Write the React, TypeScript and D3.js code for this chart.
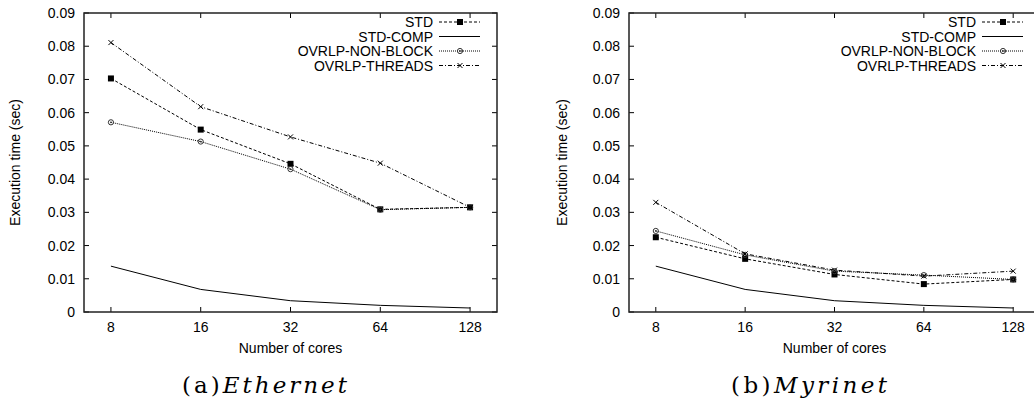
import React from "react";
import * as d3 from "d3";

const cores = ["8", "16", "32", "64", "128"];
const seriesNames = ["STD", "STD-COMP", "OVRLP-NON-BLOCK", "OVRLP-THREADS"];
const yTicks = [0, 0.01, 0.02, 0.03, 0.04, 0.05, 0.06, 0.07, 0.08, 0.09];

const ethStd = [0.0703, 0.0549, 0.0446, 0.0309, 0.0315];
const ethComp = [0.0138, 0.0068, 0.0034, 0.002, 0.0012];
const ethNonBlock = [0.0571, 0.0513, 0.043, 0.0308, 0.0315];
const ethThreads = [0.0811, 0.0618, 0.0527, 0.0448, 0.0315];

const myrStd = [0.0225, 0.016, 0.0113, 0.0084, 0.0098];
const myrComp = [0.0138, 0.0068, 0.0034, 0.002, 0.0012];
const myrNonBlock = [0.0244, 0.0172, 0.0123, 0.0111, 0.0098];
const myrThreads = [0.033, 0.0175, 0.0126, 0.0108, 0.0123];

const dashes = ["3,2", "none", "1,1", "4,2,1,2"];
const font = "'Liberation Sans', Arial, Helvetica, sans-serif";
const serif = "'DejaVu Serif', 'Liberation Serif', serif";

function Marker({ kind, x, y }: { kind: number; x: number; y: number }) {
  if (kind === 0) return <rect x={x - 3} y={y - 3} width={6} height={6} fill="#000" />;
  if (kind === 2)
    return (
      <g>
        <circle cx={x} cy={y} r={2.6} fill="none" stroke="#333" strokeWidth={1} />
        <circle cx={x} cy={y} r={0.9} fill="#333" />
      </g>
    );
  if (kind === 3)
    return (
      <g stroke="#000" strokeWidth={1}>
        <line x1={x - 2.5} y1={y - 2.5} x2={x + 2.5} y2={y + 2.5} />
        <line x1={x - 2.5} y1={y + 2.5} x2={x + 2.5} y2={y - 2.5} />
      </g>
    );
  return null;
}

function Panel({ left, right, series, labelX, caption, captionLetter, capX0, capX2 }: any) {
  const top = 13;
  const bottom = 312;
  const x = d3.scaleLinear().domain([-0.3, 4.3]).range([left, right]);
  const y = d3.scaleLinear().domain([0, 0.09]).range([bottom, top]);
  const line = d3
    .line<number>()
    .x((_, i) => x(i))
    .y((d) => y(d));
  const legX = right - 64;
  const legY = [22, 36.5, 51, 65.5];
  return (
    <g fontFamily={font}>
      {yTicks.map((t) => (
        <g key={"y" + t}>
          <line x1={left} x2={left + 5} y1={y(t)} y2={y(t)} stroke="#000" />
          <line x1={right} x2={right - 5} y1={y(t)} y2={y(t)} stroke="#000" />
          <text x={left - 9} y={y(t)} dy="0.36em" textAnchor="end" fontSize={14} fill="#000">
            {t === 0 ? "0" : t.toFixed(2)}
          </text>
        </g>
      ))}
      {cores.map((c, i) => (
        <g key={"x" + c}>
          <line x1={x(i)} x2={x(i)} y1={bottom} y2={bottom - 5} stroke="#000" />
          <line x1={x(i)} x2={x(i)} y1={top} y2={top + 5} stroke="#000" />
          <text x={x(i)} y={332} textAnchor="middle" fontSize={14} fill="#000">
            {c}
          </text>
        </g>
      ))}
      {series.map((s: number[], k: number) => (
        <g key={"s" + k}>
          <path d={line(s) || ""} fill="none" stroke="#000" strokeWidth={1} strokeDasharray={dashes[k]} />
          {s.map((v, i) => (
            <Marker key={i} kind={k} x={x(i)} y={y(v)} />
          ))}
        </g>
      ))}
      {seriesNames.map((n, k) => (
        <g key={"l" + n}>
          <text x={legX} y={legY[k]} dy="0.36em" textAnchor="end" fontSize={14} fill="#000">
            {n}
          </text>
          <line
            x1={legX + 6}
            x2={legX + 47}
            y1={legY[k]}
            y2={legY[k]}
            stroke="#000"
            strokeWidth={1}
            strokeDasharray={dashes[k]}
          />
          <Marker kind={k} x={legX + 27} y={legY[k]} />
        </g>
      ))}
      <rect x={left} y={top} width={right - left} height={bottom - top} fill="none" stroke="#222" strokeWidth={1.5} />
      <text x={(left + right) / 2} y={353} textAnchor="middle" fontSize={14} fill="#000">
        Number of cores
      </text>
      <text
        transform={`translate(${labelX},${(top + bottom) / 2}) rotate(-90)`}
        textAnchor="middle"
        dy="0.36em"
        fontSize={14}
        fill="#000"
      >
        Execution time (sec)
      </text>
      <text
        x={capX0}
        y={393}
        fontSize={23}
        fontFamily={serif}
        fontWeight={200}
        fill="#000"
        textLength={capX2 - capX0}
        lengthAdjust="spacing"
      >
        <tspan>({captionLetter})</tspan>
        <tspan fontStyle="italic">{caption}</tspan>
      </text>
    </g>
  );
}

export default function App() {
  return (
    <svg
      width={1034}
      height={406}
      style={{ position: "absolute", left: 0, top: 0, background: "#fff" }}
    >
      <rect width={1034} height={406} fill="#fff" />
      <Panel
        left={84}
        right={497}
        series={[ethStd, ethComp, ethNonBlock, ethThreads]}
        labelX={15}
        caption="Ethernet"
        captionLetter="a"
        capX0={182}
        capX2={347}
      />
      <Panel
        left={629}
        right={1040}
        series={[myrStd, myrComp, myrNonBlock, myrThreads]}
        labelX={562}
        caption="Myrinet"
        captionLetter="b"
        capX0={731}
        capX2={887}
      />
    </svg>
  );
}
